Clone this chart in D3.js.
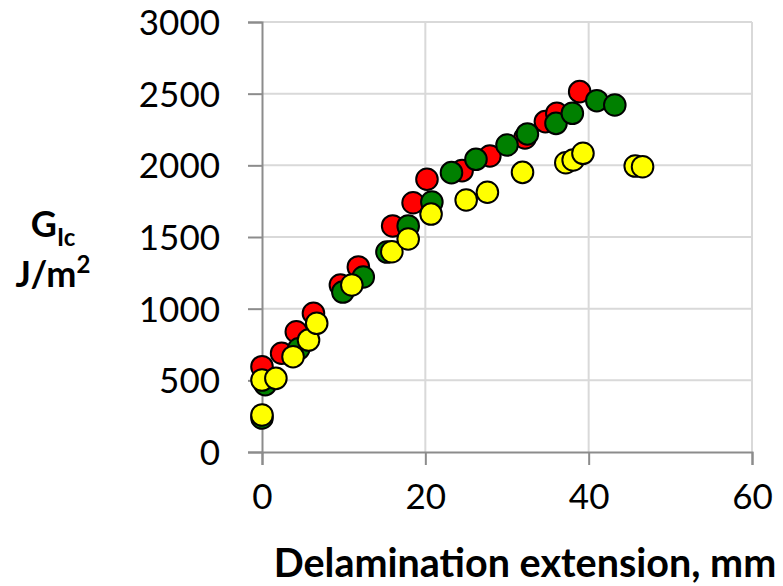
<!DOCTYPE html>
<html>
<head>
<meta charset="utf-8">
<script src="https://cdn.jsdelivr.net/npm/d3@7"></script>
<style>
  body { margin: 0; background: #fff; }
  svg { display: block; }
  text { font-family: Lato, "Open Sans", sans-serif; fill: #000; }
</style>
</head>
<body>
<svg width="783" height="586"></svg>
<script>
// Delamination extension (mm) and GIc (J/m2), three specimens
var redX = [0, 2.4, 4.2, 6.3, 9.6, 11.8, 16.0, 18.5, 20.2, 24.5, 27.9, 32.2, 34.7, 36.1, 38.9];
var redY = [595, 689, 839, 968, 1165, 1291, 1577, 1739, 1903, 1963, 2065, 2191, 2305, 2363, 2514];

var greenX = [0, 0.4, 4.5, 9.9, 12.4, 15.3, 17.9, 20.8, 23.2, 26.2, 30.0, 32.5, 36.0, 38.0, 41.0, 43.2];
var greenY = [237, 470, 720, 1116, 1221, 1395, 1577, 1744, 1949, 2042, 2142, 2219, 2293, 2363, 2451, 2421];

var yellowX = [0, 0, 1.7, 3.8, 5.7, 6.7, 11.0, 15.9, 17.9, 20.7, 25.0, 27.6, 31.9, 37.2, 38.1, 39.3, 45.7, 46.6];
var yellowY = [258, 502, 514, 665, 781, 898, 1165, 1397, 1486, 1660, 1758, 1812, 1951, 2018, 2037, 2084, 1995, 1990];

var xTicks = [0, 20, 40, 60];
var yTicks = [0, 500, 1000, 1500, 2000, 2500, 3000];

var series = [
    { color: "#ff0000", xs: redX, ys: redY },
    { color: "#008000", xs: greenX, ys: greenY },
    { color: "#ffff00", xs: yellowX, ys: yellowY }
];

var svg = d3.select("svg");
var plotLeft = 262, plotRight = 752, plotTop = 22, plotBottom = 452;

var x = d3.scaleLinear().domain([0, 60]).range([plotLeft, plotRight]);
var y = d3.scaleLinear().domain([0, 3000]).range([plotBottom, plotTop]);

// gridlines
svg.append("g").selectAll("line")
    .data(yTicks.slice(1))
    .enter().append("line")
    .attr("x1", plotLeft).attr("x2", plotRight)
    .attr("y1", d => y(d)).attr("y2", d => y(d))
    .attr("stroke", "#d9d9d9").attr("stroke-width", 2);

svg.append("g").selectAll("line")
    .data(xTicks.slice(1))
    .enter().append("line")
    .attr("x1", d => x(d)).attr("x2", d => x(d))
    .attr("y1", plotTop).attr("y2", plotBottom)
    .attr("stroke", "#d9d9d9").attr("stroke-width", 2);

// axes
var xAxis = svg.append("g")
    .attr("transform", "translate(0," + plotBottom + ")")
    .call(d3.axisBottom(x).tickValues(xTicks).tickFormat(d3.format("d"))
        .tickSize(13).tickPadding(12));

var yAxis = svg.append("g")
    .attr("transform", "translate(" + plotLeft + ",0)")
    .call(d3.axisLeft(y).tickValues(yTicks).tickFormat(d3.format("d"))
        .tickSize(14).tickPadding(28));

[xAxis, yAxis].forEach(function(a) {
    a.select(".domain").attr("stroke", "#8c8c8c").attr("stroke-width", 2);
    a.selectAll(".tick line").attr("stroke", "#8c8c8c").attr("stroke-width", 2);
    a.selectAll(".tick text")
        .attr("font-family", "Lato, 'Open Sans', sans-serif")
        .attr("font-size", "35px")
        .attr("fill", "#000");
});
xAxis.selectAll(".tick text").attr("dy", "0.9em");
yAxis.selectAll(".tick text").attr("dy", "0.36em");

// points
series.forEach(function(s) {
    svg.append("g").selectAll("circle")
        .data(s.xs.map((v, i) => [v, s.ys[i]]))
        .enter().append("circle")
        .attr("cx", d => x(d[0]))
        .attr("cy", d => y(d[1]))
        .attr("r", 10.8)
        .attr("fill", s.color)
        .attr("stroke", "#000")
        .attr("stroke-width", 2);
});

// axis titles
svg.append("text")
    .attr("x", 525).attr("y", 577)
    .attr("text-anchor", "middle")
    .attr("font-weight", "bold")
    .attr("font-size", "39.5px")
    .text("Delamination extension, mm");

var g1 = svg.append("text")
    .attr("x", 53).attr("y", 237)
    .attr("text-anchor", "middle")
    .attr("font-weight", "bold")
    .attr("font-size", "36px");
g1.append("tspan").text("G");
g1.append("tspan").attr("font-size", "24px").attr("dy", "9").text("Ic");

var g2 = svg.append("text")
    .attr("x", 53).attr("y", 287)
    .attr("text-anchor", "middle")
    .attr("font-weight", "bold")
    .attr("font-size", "36px");
g2.append("tspan").text("J/m");
g2.append("tspan").attr("font-size", "24px").attr("dy", "-14").text("2");
</script>
</body>
</html>
